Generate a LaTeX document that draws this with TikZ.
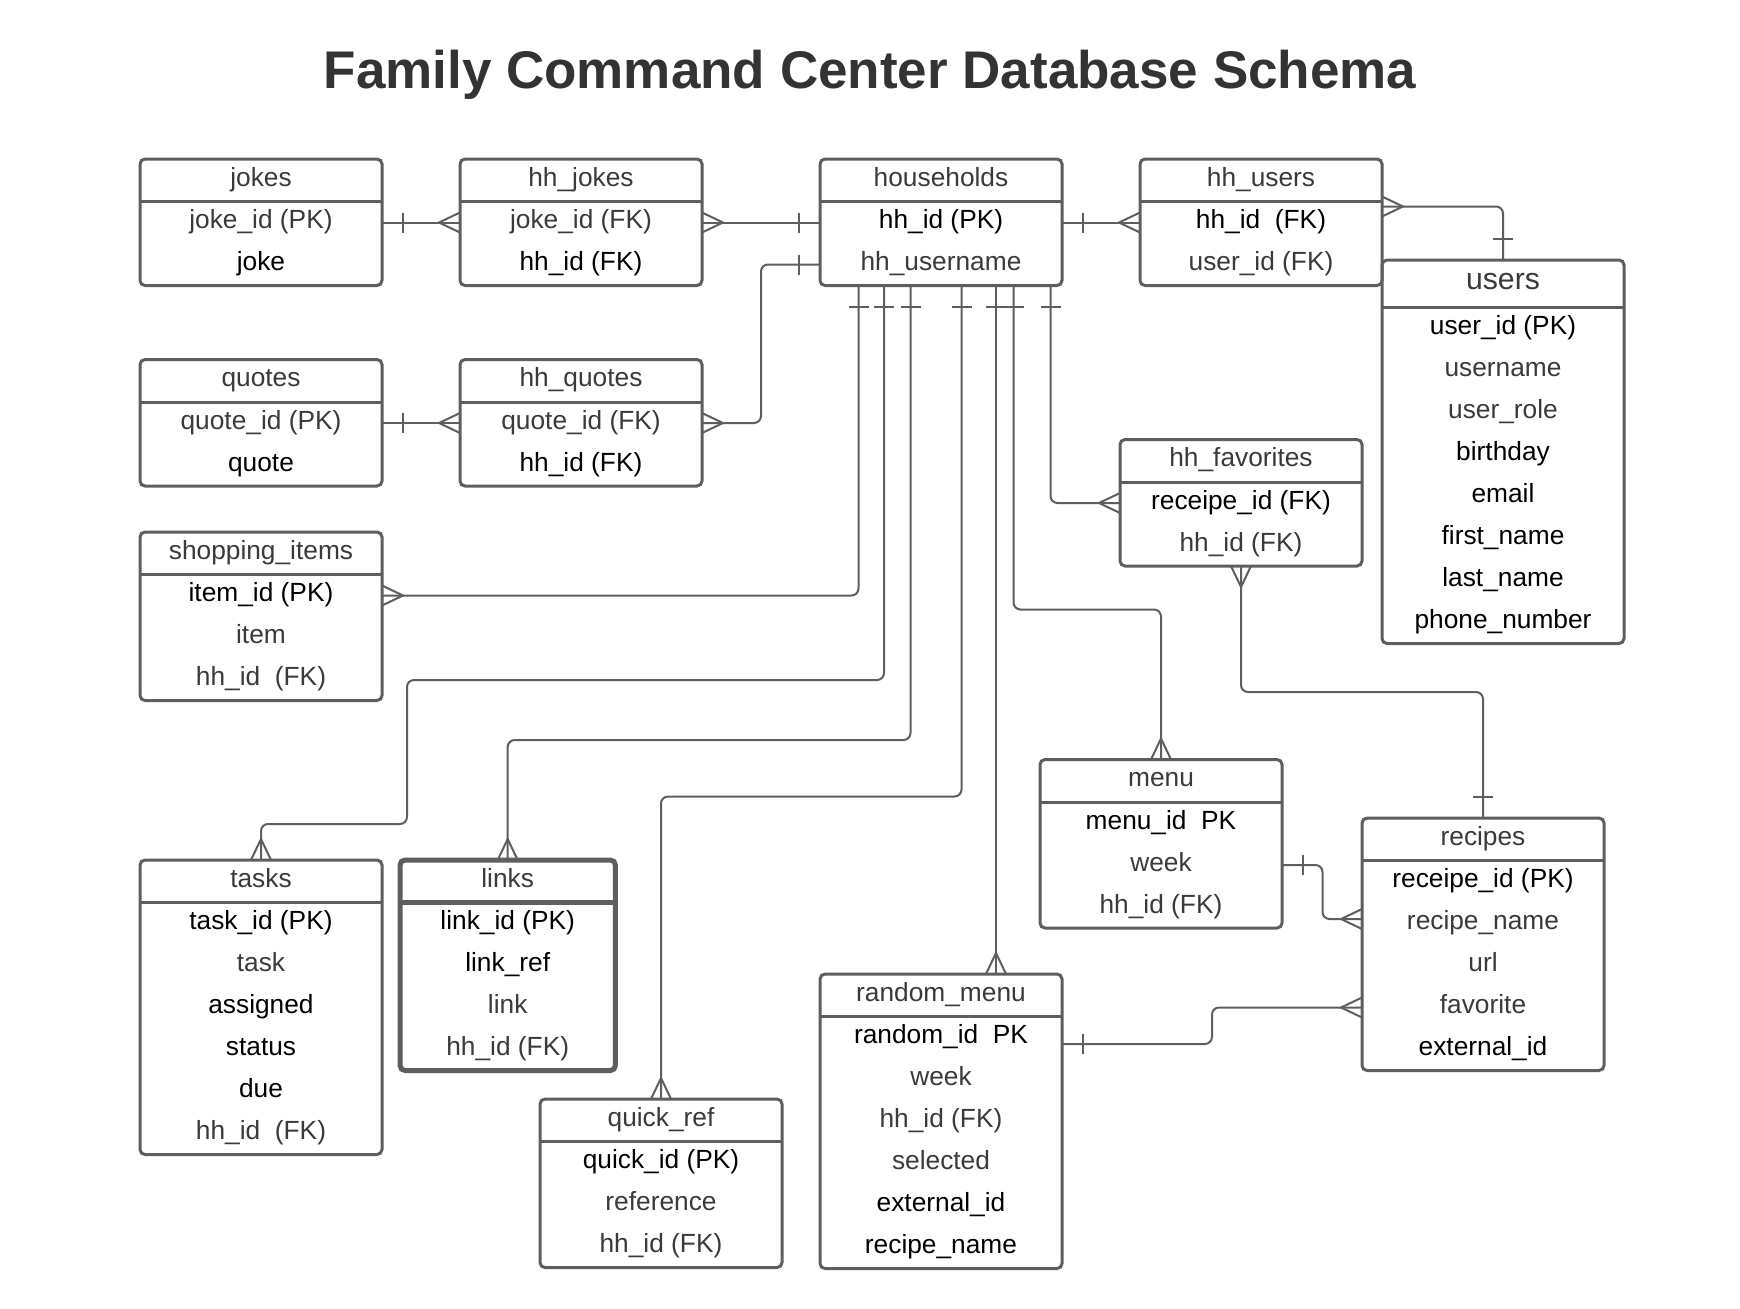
\documentclass[tikz,border=0pt]{standalone}
\usepackage{fontspec}
\setmainfont{Liberation Sans}
\usetikzlibrary{positioning, calc, fit}

\definecolor{linegray}{HTML}{5E5E5E}
\definecolor{titlegray}{HTML}{333333}
\definecolor{gr}{HTML}{3A3A3A}
\colorlet{dk}{black}

\tikzset{
  tblhead/.style={minimum width=121pt, minimum height=21.25pt, inner sep=0pt, outer sep=0pt,
    text height=9.5pt, text depth=3.4pt, text=gr, font=\fontsize{13.15}{15}\selectfont},
  tblrow/.style={minimum width=121pt, minimum height=21pt, inner sep=0pt, outer sep=0pt,
    text height=9.5pt, text depth=3.4pt, font=\fontsize{13.15}{15}\selectfont},
  tblframe/.style={draw=linegray, line width=1.5pt, rounded corners=2.5pt, inner sep=0pt, outer sep=0pt},
  tblline/.style={draw=linegray, line width=1.5pt},
  conn/.style={draw=linegray, line width=1pt},
  route/.style={conn, rounded corners=3.5pt},
  pics/onebar/.style={code={\draw[conn] (21,-10) -- (21,10);}},
  pics/crow/.style={code={\draw[conn] (0,-10) -- (21,0) -- (0,10);}},
}

% table: name, top left corner, header, rows as colour/text
\newcommand{\dbtable}[4]{%
  \node[tblhead, anchor=north west] (#1-h) at (#2) {#3};
  \foreach \rowcol/\rowtxt [count=\i, remember=\i as \prev (initially h)] in {#4} {
    \node[tblrow, text=\rowcol, below=0pt of #1-\prev] (#1-\i) {\rowtxt};
    \xdef\lastrow{\i}
  }
  \node[tblframe, fit=(#1-h)(#1-\lastrow)] (#1) {};
  \draw[tblline] (#1-h.south west) -- (#1-h.south east);
}

\begin{document}
\begin{tikzpicture}[x=0.5pt, y=-0.5pt]
\fill[white] (0,0) rectangle (1740,1308);

\node[font=\bfseries\fontsize{26.5}{30}\selectfont, text=titlegray, anchor=base] (title) at (870,88)
  {Family Command Center Database Schema};

% Top row
\dbtable{jokes}{140,159}{jokes}{gr/joke\_id (PK), dk/joke}
\dbtable{hhjokes}{460,159}{hh\_jokes}{gr/joke\_id (FK), dk/hh\_id (FK)}
\dbtable{households}{820,159}{households}{dk/hh\_id (PK), gr/hh\_username}
\dbtable{hhusers}{1140,159}{hh\_users}{dk/hh\_id\ \ (FK), gr/user\_id (FK)}
\begin{scope}[tblhead/.append style={minimum height=23.75pt, font=\fontsize{15.1}{18}\selectfont}]
\dbtable{users}{1382,260}{users}{dk/user\_id (PK), gr/username, gr/user\_role, dk/birthday,
  dk/email, dk/first\_name, dk/last\_name, dk/phone\_number}
\end{scope}

% Left column
\dbtable{quotes}{140,359.5}{quotes}{gr/quote\_id (PK), dk/quote}
\dbtable{hhquotes}{460,359.5}{hh\_quotes}{gr/quote\_id (FK), dk/hh\_id (FK)}
\dbtable{shopping}{140,532}{shopping\_items}{dk/item\_id (PK), gr/item, gr/hh\_id\ \ (FK)}
\dbtable{tasks}{140,860}{tasks}{dk/task\_id (PK), gr/task, dk/assigned, dk/status, dk/due,
  gr/hh\_id\ \ (FK)}
\begin{scope}[tblhead/.append style={minimum width=107.7pt}, tblrow/.append style={minimum width=107.7pt},
  tblframe/.append style={line width=2.5pt}, tblline/.append style={line width=2.5pt}]
\dbtable{links}{400,860}{links}{dk/link\_id (PK), dk/link\_ref, gr/link, gr/hh\_id (FK)}
\end{scope}
\dbtable{quickref}{540,1099}{quick\_ref}{dk/quick\_id (PK), gr/reference, gr/hh\_id (FK)}

% Menu and recipes
\dbtable{hhfav}{1120,439.5}{hh\_favorites}{dk/receipe\_id (FK), gr/hh\_id (FK)}
\dbtable{menu}{1040,759.5}{menu}{dk/menu\_id\ \ PK, gr/week, gr/hh\_id (FK)}
\dbtable{recipes}{1362,818}{recipes}{dk/receipe\_id (PK), gr/recipe\_name, gr/url, gr/favorite,
  dk/external\_id}
\dbtable{randmenu}{820,974}{random\_menu}{dk/random\_id\ \ PK, gr/week, gr/hh\_id (FK), gr/selected,
  dk/external\_id, dk/recipe\_name}

% Jokes and quotes
\draw[route] (jokes-1.east) -- (hhjokes-1.west);
\pic at (jokes-1.east) {onebar};
\pic[rotate=180] at (hhjokes-1.west) {crow};
\draw[route] (hhjokes-1.east) -- (households-1.west);
\pic at (hhjokes-1.east) {crow};
\pic[rotate=180] at (households-1.west) {onebar};
\draw[route] (quotes-1.east) -- (hhquotes-1.west);
\pic at (quotes-1.east) {onebar};
\pic[rotate=180] at (hhquotes-1.west) {crow};
\draw[route] (households-2.west) -- ++(-59,0) |- (hhquotes-1.east);
\pic[rotate=180] at (households-2.west) {onebar};
\pic at (hhquotes-1.east) {crow};

% Users
\draw[route] (households-1.east) -- (hhusers-1.west);
\pic at (households-1.east) {onebar};
\pic[rotate=180] at (hhusers-1.west) {crow};
\coordinate (hu-out) at ($(hhusers-h.south east)+(0,5)$);
\draw[route] (hu-out) -| (users.north);
\pic at (hu-out) {crow};
\pic[rotate=90] at (users.north) {onebar};

% Lines down from households
\foreach \dx [count=\k] in {38.5,64,90.5,141.5,176,193.5,230.5} {
  \coordinate (hb\k) at ($(households.south west)+(\dx,0)$);
  \pic[rotate=-90] at (hb\k) {onebar};
}
\draw[route] (hb1) |- (shopping-1.east);
\pic at (shopping-1.east) {crow};
\draw[route] (hb2) |- ($(tasks.north)+(146,-180)$) -- ++(0,144) -| (tasks.north);
\pic[rotate=90] at (tasks.north) {crow};
\draw[route] (hb3) -- ++(0,454.5) -| (links.north);
\pic[rotate=90] at (links.north) {crow};
\draw[route] (hb4) -- ++(0,511) -| (quickref.north);
\pic[rotate=90] at (quickref.north) {crow};
\coordinate (rm-in) at (hb5 |- randmenu.north);
\draw[route] (hb5) -- (rm-in);
\pic[rotate=90] at (rm-in) {crow};
\draw[route] (hb6) -- ++(0,324) -| (menu.north);
\pic[rotate=90] at (menu.north) {crow};
\draw[route] (hb7) |- (hhfav-1.west);
\pic[rotate=180] at (hhfav-1.west) {crow};

% Recipes
\draw[route] (hhfav.south) -- ++(0,126) -| (recipes.north);
\pic[rotate=-90] at (hhfav.south) {crow};
\pic[rotate=90] at (recipes.north) {onebar};
\coordinate (rc-name) at ($(recipes-2.west)+(0,-4.5)$);
\draw[route] (menu-2.east) -- ++(40.5,0) |- (rc-name);
\pic at (menu-2.east) {onebar};
\pic[rotate=180] at (rc-name) {crow};
\coordinate (rm-out) at ($(randmenu-1.east)+(0,6.5)$);
\draw[route] (rm-out) -- ++(150,0) |- (recipes-4.west);
\pic at (rm-out) {onebar};
\pic[rotate=180] at (recipes-4.west) {crow};
\end{tikzpicture}
\end{document}
